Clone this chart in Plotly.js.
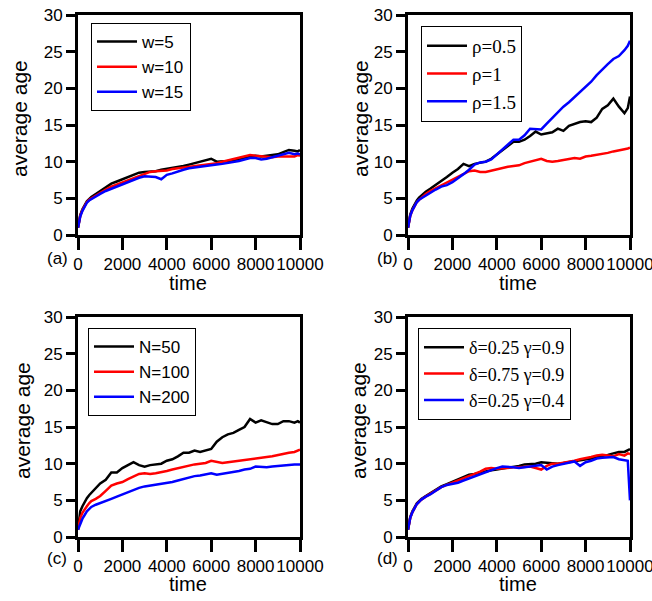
<!DOCTYPE html>
<html>
<head>
<meta charset="utf-8">
<script src="https://cdn.plot.ly/plotly-3.0.1.min.js"></script>
<style>html,body{margin:0;padding:0;background:#fff}#chart{width:652px;height:601px}</style>
</head>
<body>
<div id="chart"></div>
<script>
// time samples
const time = [0, 50, 100, 200, 300, 400, 500, 600, 800, 1000, 1250, 1500, 1750, 2000, 2250, 2500, 2750, 3000, 3250, 3500, 3750, 4000, 4250, 4500, 4750, 5000, 5250, 5500, 5750, 6000, 6250, 6500, 6750, 7000, 7250, 7500, 7750, 8000, 8250, 8500, 8750, 9000, 9250, 9500, 9750, 9900, 10000];

// panel (a)
const aNames = ["w=5", "w=10", "w=15"];
const aW5  = [1.0, 2.0, 2.7, 3.5, 4.1, 4.6, 4.9, 5.2, 5.6, 6.0, 6.5, 7.0, 7.3, 7.6, 7.9, 8.2, 8.5, 8.6, 8.6, 8.7, 8.9, 9.0, 9.1, 9.3, 9.4, 9.6, 9.8, 9.9, 10.1, 10.4, 10.0, 10.0, 10.1, 10.2, 10.3, 10.5, 10.7, 10.8, 10.7, 10.8, 10.9, 11.0, 11.3, 11.6, 11.5, 11.4, 11.6];
const aW10 = [1.0, 1.9, 2.6, 3.4, 4.0, 4.5, 4.8, 5.0, 5.4, 5.8, 6.2, 6.6, 6.9, 7.2, 7.5, 7.8, 8.1, 8.4, 8.6, 8.7, 8.7, 8.8, 9.0, 9.1, 9.2, 9.3, 9.4, 9.5, 9.6, 9.7, 9.8, 10.0, 10.2, 10.3, 10.5, 10.8, 10.9, 10.8, 10.7, 10.6, 10.6, 10.7, 10.7, 10.8, 10.7, 10.9, 10.8];
const aW15 = [1.0, 1.8, 2.5, 3.3, 3.9, 4.4, 4.7, 4.9, 5.2, 5.6, 6.0, 6.3, 6.7, 7.0, 7.2, 7.5, 7.8, 8.0, 8.0, 7.9, 7.6, 8.2, 8.4, 8.7, 8.9, 9.1, 9.2, 9.3, 9.5, 9.5, 9.6, 9.7, 9.8, 10.0, 10.1, 10.3, 10.5, 10.5, 10.3, 10.4, 10.6, 10.8, 11.1, 11.2, 11.0, 11.1, 11.0];

// panel (b)
const bNames = ["ρ=0.5", "ρ=1", "ρ=1.5"];
const bR05 = [1.0, 2.0, 2.8, 3.6, 4.2, 4.7, 5.1, 5.4, 5.9, 6.3, 6.8, 7.3, 7.9, 8.5, 9.0, 9.7, 9.4, 9.7, 9.9, 10.0, 10.4, 11.0, 11.6, 12.2, 12.7, 12.7, 13.0, 13.5, 14.1, 13.7, 13.8, 14.0, 14.5, 14.2, 14.9, 15.2, 15.4, 15.5, 15.4, 16.0, 17.2, 17.7, 18.6, 17.5, 16.6, 17.3, 18.9];
const bR1  = [1.0, 1.9, 2.6, 3.4, 4.0, 4.5, 4.8, 5.1, 5.6, 6.0, 6.4, 6.8, 7.1, 7.5, 7.9, 8.4, 8.7, 8.8, 8.6, 8.6, 8.8, 9.0, 9.2, 9.3, 9.4, 9.5, 9.8, 10.0, 10.1, 10.4, 10.1, 10.0, 10.1, 10.2, 10.3, 10.5, 10.4, 10.7, 10.8, 10.9, 11.0, 11.2, 11.4, 11.6, 11.7, 11.8, 11.9];
const bR15 = [1.0, 1.9, 2.6, 3.4, 4.0, 4.5, 4.8, 5.0, 5.4, 5.8, 6.2, 6.6, 6.8, 7.2, 7.7, 8.3, 8.9, 9.6, 9.9, 10.0, 10.3, 11.0, 11.7, 12.4, 13.0, 13.0, 13.6, 14.5, 14.4, 14.4, 15.2, 16.0, 16.8, 17.5, 18.1, 18.8, 19.5, 20.2, 20.9, 21.8, 22.6, 23.3, 24.0, 24.4, 25.2, 25.8, 26.5];

// panel (c)
const cNames = ["N=50", "N=100", "N=200"];
const cN50  = [1.0, 2.8, 3.5, 4.2, 4.8, 5.3, 5.7, 6.0, 6.6, 7.3, 7.8, 8.8, 8.8, 9.4, 9.8, 10.2, 9.8, 9.6, 9.8, 9.9, 10.0, 10.4, 10.6, 11.0, 11.5, 11.5, 11.8, 11.6, 11.8, 12.0, 13.0, 13.6, 14.0, 14.2, 14.6, 15.0, 16.1, 15.6, 15.9, 15.7, 15.4, 15.4, 15.8, 15.8, 15.6, 15.8, 15.6];
const cN100 = [1.0, 1.9, 2.6, 3.3, 3.8, 4.2, 4.6, 4.9, 5.2, 5.6, 6.3, 7.0, 7.3, 7.5, 7.9, 8.3, 8.6, 8.7, 8.6, 8.7, 8.8, 9.0, 9.2, 9.4, 9.5, 9.8, 9.9, 10.0, 10.1, 10.4, 10.2, 10.1, 10.2, 10.3, 10.3, 10.4, 10.6, 10.7, 10.8, 10.9, 11.0, 11.2, 11.4, 11.5, 11.6, 11.8, 11.9];
const cN200 = [1.0, 1.4, 1.8, 2.5, 3.0, 3.5, 3.8, 4.1, 4.4, 4.6, 4.9, 5.2, 5.5, 5.8, 6.1, 6.5, 6.7, 6.9, 7.0, 7.1, 7.3, 7.4, 7.5, 7.7, 7.9, 8.2, 8.3, 8.4, 8.6, 8.7, 8.5, 8.6, 8.7, 8.9, 9.0, 9.2, 9.3, 9.6, 9.5, 9.5, 9.6, 9.7, 9.8, 9.9, 9.9, 9.9, 9.9];

// panel (d)
const dNames = ["δ=0.25 γ=0.9", "δ=0.75 γ=0.9", "δ=0.25 γ=0.4"];
const dS1 = [1.0, 1.9, 2.7, 3.5, 4.1, 4.6, 4.9, 5.2, 5.6, 6.0, 6.5, 6.9, 7.2, 7.5, 7.9, 8.2, 8.5, 8.6, 8.8, 9.0, 9.1, 9.2, 9.3, 9.5, 9.6, 9.7, 9.9, 9.9, 10.0, 10.2, 10.1, 10.0, 10.0, 10.1, 10.2, 10.3, 10.4, 10.5, 10.7, 10.9, 11.0, 11.2, 11.4, 11.6, 11.6, 11.8, 12.0];
const dS2 = [1.0, 1.9, 2.6, 3.4, 4.0, 4.5, 4.8, 5.1, 5.5, 5.9, 6.4, 6.8, 7.1, 7.4, 7.6, 7.9, 8.3, 8.6, 8.9, 9.3, 9.4, 9.3, 9.4, 9.5, 9.5, 9.5, 9.6, 9.6, 9.4, 9.2, 9.7, 10.0, 10.0, 10.1, 10.3, 10.4, 10.6, 10.7, 10.9, 11.1, 11.2, 11.1, 11.0, 11.3, 11.1, 11.4, 11.3];
const dS3 = [1.0, 1.9, 2.6, 3.4, 4.0, 4.5, 4.8, 5.1, 5.5, 5.8, 6.3, 6.8, 7.1, 7.2, 7.4, 7.7, 8.0, 8.3, 8.6, 8.8, 9.1, 9.4, 9.6, 9.6, 9.5, 9.4, 9.5, 9.7, 9.8, 9.8, 9.2, 9.6, 9.8, 10.0, 10.1, 10.3, 9.7, 10.2, 10.4, 10.7, 10.8, 10.8, 10.9, 10.6, 10.5, 10.4, 5.0];

const xTickVals = [0, 2000, 4000, 6000, 8000, 10000];
const xTickText = ["0", "2000", "4000", "6000", "8000", "10000"];
const yTickVals = [0, 5, 10, 15, 20, 25, 30];
const yTickText = ["0", "5", "10", "15", "20", "25", "30"];
const panelLabels = ["(a)", "(b)", "(c)", "(d)"];
const xTitle = "time";
const yTitle = "average age";

const colors = ["#000000", "#ff0000", "#0000ff"];
const SANS = "Liberation Sans, Arial, sans-serif";
const SERIF = "Liberation Serif, Times New Roman, serif";

const panels = [
  {names: aNames, ys: [aW5, aW10, aW15]},
  {names: bNames, ys: [bR05, bR1, bR15]},
  {names: cNames, ys: [cN50, cN100, cN200]},
  {names: dNames, ys: [dS1, dS2, dS3]}
];

const W = 652, H = 601;
const px = (v) => v / W;
const py = (v) => 1 - v / H;
// plot boxes in pixels [left, right, top, bottom]
const boxes = [[78, 300, 15, 235], [408, 630, 15, 235], [78, 300, 317, 537], [408, 630, 317, 537]];
const X_RANGE = [0, 10000], Y_RANGE = [0, 30];

const data = [];
panels.forEach((p, i) => {
  const sfx = i === 0 ? "" : String(i + 1);
  p.ys.forEach((y, k) => {
    data.push({
      type: "scatter", mode: "lines", x: time, y: y, name: p.names[k],
      xaxis: "x" + sfx, yaxis: "y" + sfx,
      legend: "legend" + sfx,
      line: {color: colors[k], width: 2.5}
    });
  });
});

const layout = {
  width: W, height: H,
  margin: {l: 0, r: 0, t: 0, b: 0},
  paper_bgcolor: "#fff", plot_bgcolor: "rgba(0,0,0,0)",
  showlegend: true,
  annotations: []
};

function axisCommon() {
  return {
    showline: true, linewidth: 3, linecolor: "#000", mirror: true,
    showgrid: false, zeroline: false,
    ticks: "outside", tickwidth: 3, tickcolor: "#000",
    tickfont: {family: SANS, size: 17, color: "#000"},
    tickangle: 0, ticklabeloverflow: "allow"
  };
}

// tick marks drawn as grid lines of thin strip axes placed just outside each frame
let stripId = 5;
function addStrip(gridDir, xPix, yPix, dtick) {
  const n = stripId++;
  const padX = gridDir === "x" ? 100 : 0;   // data-units padding so end grid lines are kept
  const padY = gridDir === "y" ? 0.5 : 0;
  const unitX = (xPix[1] - xPix[0]) / (X_RANGE[1] - X_RANGE[0]);
  const unitY = (yPix[1] - yPix[0]) / (Y_RANGE[1] - Y_RANGE[0]);
  let xd, yd, xr, yr;
  if (gridDir === "x") {
    xd = [px(xPix[0] - padX * unitX), px(xPix[1] + padX * unitX)];
    xr = [X_RANGE[0] - padX, X_RANGE[1] + padX];
    yd = [py(yPix[1]), py(yPix[0])]; yr = [0, 1];
  } else {
    yd = [py(yPix[1] + padY * unitY), py(yPix[0] - padY * unitY)];
    yr = [Y_RANGE[0] - padY, Y_RANGE[1] + padY];
    xd = [px(xPix[0]), px(xPix[1])]; xr = [0, 1];
  }
  const base = {showline: false, zeroline: false, ticks: "", showticklabels: false, fixedrange: true,
                gridcolor: "#000", gridwidth: 3, tickmode: "linear", tick0: 0};
  layout["xaxis" + n] = Object.assign({}, base, {domain: xd, range: xr, anchor: "y" + n,
    showgrid: gridDir === "x", dtick: gridDir === "x" ? dtick : 1});
  layout["yaxis" + n] = Object.assign({}, base, {domain: yd, range: yr, anchor: "x" + n,
    showgrid: gridDir === "y", dtick: gridDir === "y" ? dtick : 1});
}

const legendFonts = [SANS, SERIF, SANS, SERIF];
const legendSizes = [17, 19, 17, 18];
const legendPos = [[91, 23], [421, 26], [88, 328], [418, 328]];
const ytitlePos = [[19, 119], [360, 119], [22, 421], [358, 421]];
const xtitlePos = [[188, 283], [518, 283], [188, 584], [518, 584]];
const labelPos = [[57, 258], [387, 258], [57, 558], [387, 558]];

boxes.forEach((b, i) => {
  const sfx = i === 0 ? "" : String(i + 1);
  const xa = axisCommon();
  xa.domain = [px(b[0]), px(b[1])];
  xa.range = X_RANGE;
  xa.anchor = "y" + sfx;
  xa.ticklen = 12;
  xa.tickmode = "array"; xa.tickvals = xTickVals; xa.ticktext = xTickText;
  const ya = axisCommon();
  ya.domain = [py(b[3]), py(b[2])];
  ya.range = Y_RANGE;
  ya.anchor = "x" + sfx;
  ya.ticklen = 9;
  ya.tickmode = "array"; ya.tickvals = yTickVals; ya.ticktext = yTickText;
  layout["xaxis" + sfx] = xa;
  layout["yaxis" + sfx] = ya;

  // bottom: major (2000) long, minor (1000) short
  addStrip("x", [b[0], b[1]], [b[3], b[3] + 15], 2000);
  addStrip("x", [b[0], b[1]], [b[3], b[3] + 8], 1000);
  // left: major (5) long, minor (2.5) short
  addStrip("y", [b[0] - 15, b[0]], [b[2], b[3]], 5);
  addStrip("y", [b[0] - 8, b[0]], [b[2], b[3]], 2.5);
  // tiny marks on top and right frames
  addStrip("x", [b[0], b[1]], [b[2] - 5, b[2]], 1000);
  addStrip("y", [b[1], b[1] + 5], [b[2], b[3]], 2.5);

  layout["legend" + sfx] = {
    x: px(legendPos[i][0]), y: py(legendPos[i][1]), xanchor: "left", yanchor: "top",
    bgcolor: "#fff", bordercolor: "#000", borderwidth: 1,
    font: {family: legendFonts[i], size: legendSizes[i], color: "#000"},
    tracegroupgap: 0, itemwidth: 40
  };

  layout.annotations.push({
    text: yTitle, xref: "paper", yref: "paper", x: px(ytitlePos[i][0]), y: py(ytitlePos[i][1]),
    xanchor: "center", yanchor: "middle", textangle: -90, showarrow: false,
    font: {family: SANS, size: 21, color: "#000"}
  });
  layout.annotations.push({
    text: xTitle, xref: "paper", yref: "paper", x: px(xtitlePos[i][0]), y: py(xtitlePos[i][1]),
    xanchor: "center", yanchor: "middle", showarrow: false,
    font: {family: SANS, size: 20, color: "#000"}
  });
  layout.annotations.push({
    text: panelLabels[i], xref: "paper", yref: "paper", x: px(labelPos[i][0]), y: py(labelPos[i][1]),
    xanchor: "center", yanchor: "middle", showarrow: false,
    font: {family: SANS, size: 17, color: "#000"}
  });
});

Plotly.newPlot("chart", data, layout, {staticPlot: true});
</script>
</body>
</html>
